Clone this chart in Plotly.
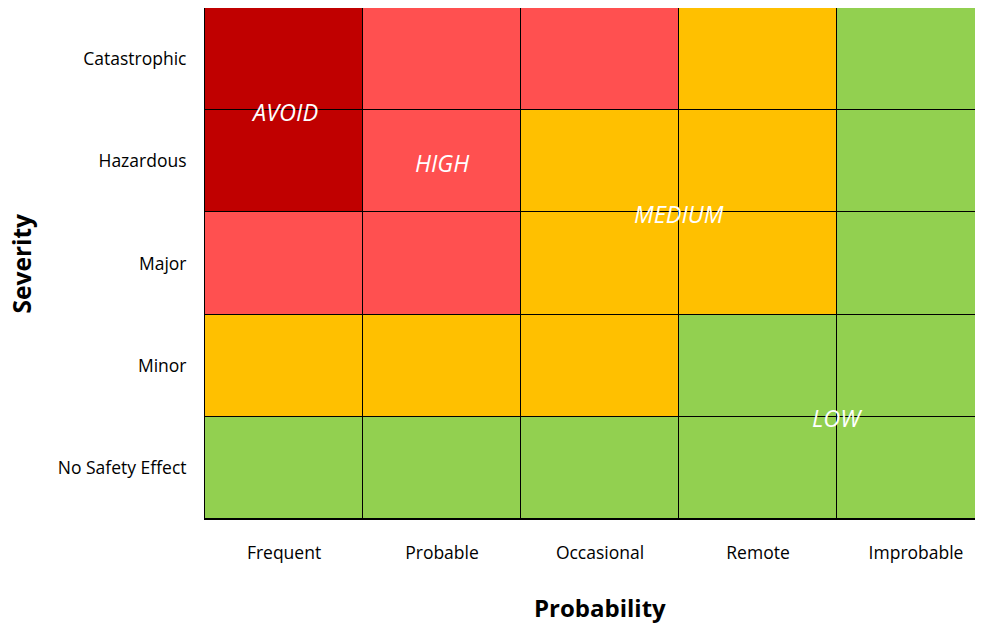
import plotly.graph_objects as go

probability = ["Frequent", "Probable", "Occasional", "Remote", "Improbable"]
severity = ["No Safety Effect", "Minor", "Major", "Hazardous", "Catastrophic"]  # bottom to top

# risk level: 1=LOW, 2=MEDIUM, 3=HIGH, 4=AVOID ; rows bottom to top
risk = [
    [1, 1, 1, 1, 1],  # No Safety Effect
    [2, 2, 2, 1, 1],  # Minor
    [3, 3, 2, 2, 1],  # Major
    [4, 3, 2, 2, 1],  # Hazardous
    [4, 3, 3, 2, 1],  # Catastrophic
]

zone_labels = ["AVOID", "HIGH", "MEDIUM", "LOW"]
zone_x = [0, 1, 2.5, 3.5]
zone_y = [3.5, 3, 2.5, 0.5]

colors = ["#92D050", "#FFC000", "#FF5050", "#C00000"]
cs = []
for i, c in enumerate(colors):
    cs.append([i / 4, c])
    cs.append([(i + 1) / 4, c])

fig = go.Figure(go.Heatmap(
    z=risk,
    x=list(range(len(probability))),
    y=list(range(len(severity))),
    colorscale=cs, zmin=0.5, zmax=4.5,
    showscale=False, xgap=1, ygap=1, hoverinfo="skip",
))

for t, x, y in zip(zone_labels, zone_x, zone_y):
    fig.add_annotation(x=x, y=y, text=t, showarrow=False, xref="x", yref="y", yshift=-1.5,
                       font=dict(family="Open Sans", size=23.5, color="white", style="italic"))

fig.add_annotation(x=2, y=-0.5, xref="x", yref="y", yshift=-88, text="<b>Probability</b>",
                   showarrow=False, font=dict(family="Open Sans", size=24, color="black"))
fig.add_annotation(x=-0.5, xref="x", xshift=-184, y=2, yref="y", text="<b>Severity</b>",
                   textangle=-90, showarrow=False,
                   font=dict(family="Open Sans", size=24.5, color="black"))

fig.update_layout(
    autosize=False,
    width=975, height=616,
    margin=dict(l=197, r=0, t=0, b=105),
    plot_bgcolor="black", paper_bgcolor="white",
    font=dict(family="Open Sans", size=17.5, color="black"),
)
fig.update_xaxes(range=[-0.5, 4.424], tickvals=list(range(5)), ticktext=probability,
                 showgrid=False, zeroline=False, ticks="", ticklabelstandoff=18,
                 showline=True, linecolor="black", linewidth=1)
fig.update_yaxes(range=[-0.5, 4.5], tickvals=list(range(5)), ticktext=severity,
                 showgrid=False, zeroline=False, ticks="", ticklabelstandoff=14,
                 showline=True, linecolor="black", linewidth=1, mirror=True)

fig.write_html("out.html")
